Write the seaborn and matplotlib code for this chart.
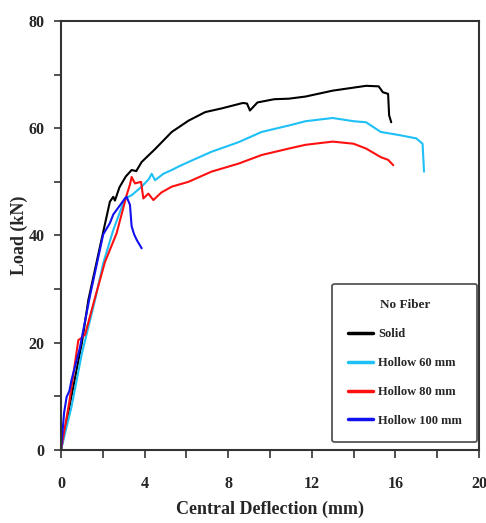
import pandas as pd
import matplotlib.pyplot as plt
import seaborn as sns

# Load-deflection readings
solid_x = [0, 0.5, 1.0, 1.31, 1.87, 2.34, 2.5, 2.58, 2.8, 3.1, 3.38, 3.6, 3.86, 4.5, 5.3,
           6.1, 6.9, 7.7, 8.7, 8.9, 9.04, 9.4, 10.2, 10.9, 11.7, 13.0, 14.6, 15.2, 15.4,
           15.65, 15.7, 15.8]
solid_y = [0, 10, 20, 28, 38, 46.3, 47.2, 46.5, 49, 51, 52.2, 52, 53.7, 56.1, 59.3,
           61.4, 63.0, 63.7, 64.7, 64.6, 63.3, 64.8, 65.4, 65.5, 65.9, 67.0, 67.9, 67.8, 66.7,
           66.4, 62.4, 61.1]

h60_x = [0, 0.5, 1.0, 1.63, 2.02, 2.5, 3.06, 3.38, 3.86, 4.2, 4.34, 4.5, 4.9, 5.3, 5.6,
         6.1, 7.2, 8.5, 9.6, 10.9, 11.7, 13.0, 14.0, 14.6, 15.3, 16.2, 17.0, 17.3, 17.37]
h60_y = [0, 8, 18, 28, 34.8, 41, 46.9, 47.5, 49.1, 50.5, 51.5, 50.3, 51.5, 52.2, 52.8,
         53.7, 55.6, 57.4, 59.3, 60.5, 61.3, 61.9, 61.3, 61.1, 59.3, 58.7, 58.1, 57.1, 51.9]

h80_x = [0, 0.4, 0.83, 0.95, 1.15, 1.6, 2.1, 2.66, 3.14, 3.3, 3.38, 3.54, 3.83, 3.94, 4.18,
         4.42, 4.8, 5.3, 6.1, 7.2, 8.5, 9.6, 10.9, 11.7, 13.0, 14.0, 14.6, 15.3, 15.65, 15.9]
h80_y = [0, 9, 20.5, 20.8, 21.5, 28, 35, 40.4, 47.5, 49.5, 50.9, 49.7, 50, 46.9, 47.8,
         46.6, 48, 49.1, 50, 51.9, 53.4, 55, 56.2, 56.9, 57.5, 57.1, 56.2, 54.6, 54.1, 53.1]

h100_x = [0, 0.15, 0.27, 0.4, 0.5, 0.9, 1.4, 2.02, 2.34, 2.5, 2.8, 3.06, 3.14, 3.3, 3.38,
          3.5, 3.62, 3.86]
h100_y = [0, 7, 9.9, 11, 13, 19, 29, 40.2, 42.3, 43.9, 45.5, 46.9, 47.2, 45.7, 41.7,
          40.2, 39.2, 37.6]

series = {
    "Solid": (solid_x, solid_y),
    "Hollow 60 mm": (h60_x, h60_y),
    "Hollow 80 mm": (h80_x, h80_y),
    "Hollow 100 mm": (h100_x, h100_y),
}
colors = {"Solid": "#000000", "Hollow 60 mm": "#1EC0F5",
          "Hollow 80 mm": "#FF1010", "Hollow 100 mm": "#1010F0"}

rows = []
for name, (xs, ys) in series.items():
    for i, (x, y) in enumerate(zip(xs, ys)):
        rows.append({"Specimen": name, "order": i, "Deflection": x, "Load": y})
data = pd.DataFrame(rows)

sns.set_style("ticks")
plt.rcParams["font.family"] = ["Liberation Serif", "DejaVu Serif"]
plt.rcParams["font.weight"] = "bold"

fig = plt.figure(figsize=(4.86, 5.23), dpi=100)
ax = fig.add_axes([0.1255, 0.1396, 0.8601, 0.8204])

sns.lineplot(data=data, x="Deflection", y="Load", hue="Specimen", units="Specimen",
             estimator=None, sort=False, palette=colors, linewidth=1.5, ax=ax)

ax.set_xlim(0, 20)
ax.set_ylim(0, 80)
ax.set_xticks([0, 4, 8, 12, 16, 20])
ax.set_xticks(range(0, 21, 2), minor=True)
ax.set_yticks([0, 20, 40, 60, 80])
ax.set_yticks(range(0, 81, 10), minor=True)
ax.tick_params(which="both", direction="out", width=1.2, color="#333333", labelsize=11.5)
ax.tick_params(axis="x", which="both", length=6, pad=13)
ax.tick_params(axis="y", which="both", length=5, pad=7)
for s in ax.spines.values():
    s.set_color("#333333")
    s.set_linewidth(1.5)

ax.set_xlabel("Central Deflection (mm)", fontsize=13, fontweight="bold", labelpad=6)
ax.set_ylabel("Load (kN)", fontsize=13, fontweight="bold", labelpad=0)

leg = ax.legend(title="No Fiber", loc="lower right", bbox_to_anchor=(1.011, 0.003),
                fontsize=9, title_fontsize=9.5, frameon=True, fancybox=True,
                handlelength=2.0, labelspacing=1.35, borderpad=1.25, handletextpad=0.4)
leg.get_title().set_fontweight("bold")
frame = leg.get_frame()
frame.set_edgecolor("#555555")
frame.set_linewidth(1.3)
frame.set_alpha(1)
for line in leg.get_lines():
    line.set_linewidth(2.5)

plt.savefig("out.png", dpi=100)
plt.close()
